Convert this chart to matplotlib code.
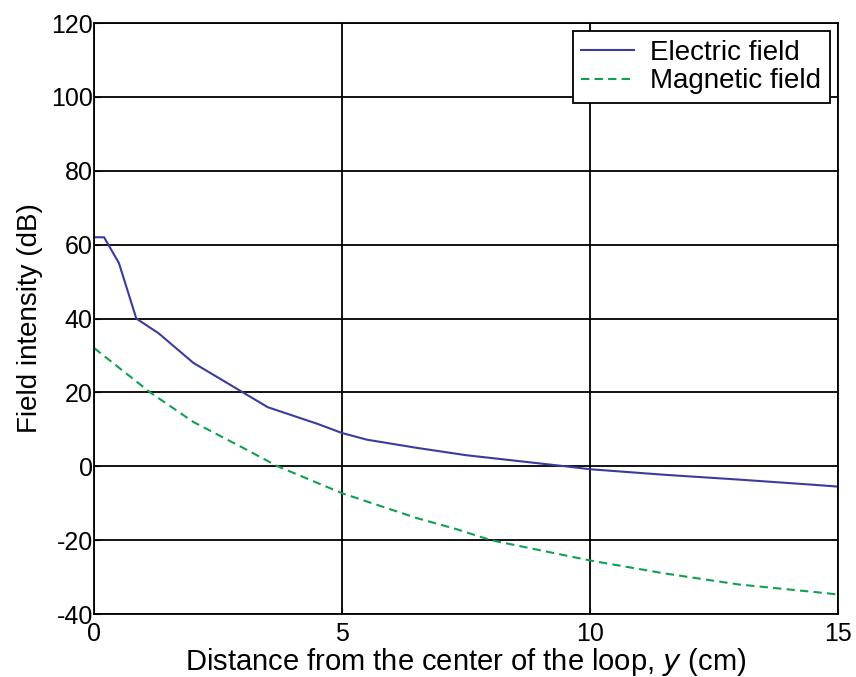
import numpy as np
import matplotlib.pyplot as plt

plt.rcParams['font.family'] = ['Liberation Sans', 'DejaVu Sans']
plt.rcParams['axes.unicode_minus'] = False

# distance from loop centre (cm) and field levels (dB)
y_e = [0.0, 0.2, 0.5, 0.85, 1.3, 2.0, 3.0, 3.5, 4.5, 5.0, 5.5, 6.5, 7.5, 8.5, 9.5, 10.0, 11.5, 13.0, 14.5, 15.0]
e_field = [62, 62, 55, 40, 36, 28, 20, 16, 11.5, 9, 7.2, 5, 3, 1.5, 0, -0.8, -2.3, -3.6, -5, -5.5]

y_m = [0.0, 1.13, 2.0, 3.0, 3.7, 5.0, 6.5, 7.3, 8.0, 10.0, 11.5, 13.0, 14.5, 15.0]
m_field = [32, 20, 12, 5, 0, -7.3, -14, -17, -20, -25.5, -29, -32, -34, -34.7]

fig = plt.figure(figsize=(8.56, 6.77), dpi=100)
ax = fig.add_axes([0.110, 0.093, 0.869, 0.873])

ax.plot(y_e, e_field, color='#3b3b9e', lw=1.5, label='Electric field')
ax.plot(y_m, m_field, color='#10a050', lw=1.5, ls=(0, (4, 2.5)), label='Magnetic field')

ax.set_xlim(0, 15)
ax.set_ylim(-40, 120)
ax.set_xticks([0, 5, 10, 15])
ax.set_yticks(np.arange(-40, 121, 20))
ax.grid(True, color='black', lw=1.3, ls='-')
ax.tick_params(direction='in', labelsize=18, length=4, pad=1)
ax.tick_params(axis='x', pad=6)
for s in ax.spines.values():
    s.set_linewidth(1.3)

ax.set_xlabel('Distance from the center of the loop, $\\mathit{y}$ (cm)', fontsize=21, labelpad=0)
ax.set_ylabel('Field intensity (dB)', fontsize=20, labelpad=6)

leg = ax.legend(loc='upper right', fontsize=20, frameon=True, fancybox=False,
                edgecolor='black', framealpha=1, borderaxespad=0.3,
                handlelength=1.9, handletextpad=0.6, borderpad=0.3, labelspacing=0.1)
leg.get_frame().set_linewidth(1.3)

fig.savefig('out.png', dpi=100)
